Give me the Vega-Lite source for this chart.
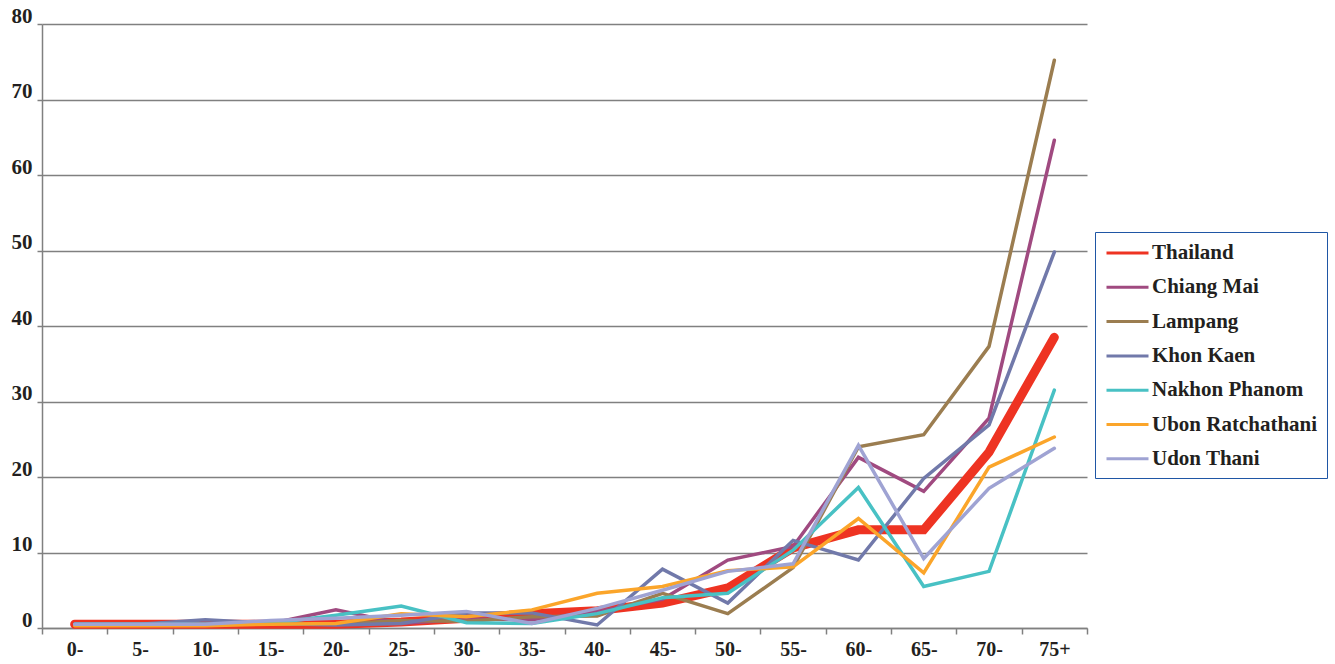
{
  "$schema": "https://vega.github.io/schema/vega-lite/v6.json",
  "width": 1045,
  "height": 604,
  "autosize": {"type": "none"},
  "padding": {"left": 42, "top": 24, "right": 248, "bottom": 36},
  "background": "#ffffff",
  "config": {"view": {"stroke": null}, "font": "Liberation Serif"},
  "datasets": {
    "rates": [
      {"age": "0-", "region": "Thailand", "value": 0.5},
      {"age": "5-", "region": "Thailand", "value": 0.5},
      {"age": "10-", "region": "Thailand", "value": 0.5},
      {"age": "15-", "region": "Thailand", "value": 0.5},
      {"age": "20-", "region": "Thailand", "value": 0.5},
      {"age": "25-", "region": "Thailand", "value": 0.8},
      {"age": "30-", "region": "Thailand", "value": 1.3},
      {"age": "35-", "region": "Thailand", "value": 1.9},
      {"age": "40-", "region": "Thailand", "value": 2.3},
      {"age": "45-", "region": "Thailand", "value": 3.3},
      {"age": "50-", "region": "Thailand", "value": 5.3},
      {"age": "55-", "region": "Thailand", "value": 10.6},
      {"age": "60-", "region": "Thailand", "value": 13.0},
      {"age": "65-", "region": "Thailand", "value": 13.0},
      {"age": "70-", "region": "Thailand", "value": 23.3},
      {"age": "75+", "region": "Thailand", "value": 38.5},
      {"age": "0-", "region": "Chiang Mai", "value": 0.5},
      {"age": "5-", "region": "Chiang Mai", "value": 0.5},
      {"age": "10-", "region": "Chiang Mai", "value": 0.5},
      {"age": "15-", "region": "Chiang Mai", "value": 0.6},
      {"age": "20-", "region": "Chiang Mai", "value": 2.4},
      {"age": "25-", "region": "Chiang Mai", "value": 0.6},
      {"age": "30-", "region": "Chiang Mai", "value": 1.2},
      {"age": "35-", "region": "Chiang Mai", "value": 1.1},
      {"age": "40-", "region": "Chiang Mai", "value": 2.2},
      {"age": "45-", "region": "Chiang Mai", "value": 3.8},
      {"age": "50-", "region": "Chiang Mai", "value": 9.0},
      {"age": "55-", "region": "Chiang Mai", "value": 10.8},
      {"age": "60-", "region": "Chiang Mai", "value": 22.6},
      {"age": "65-", "region": "Chiang Mai", "value": 18.1},
      {"age": "70-", "region": "Chiang Mai", "value": 27.8},
      {"age": "75+", "region": "Chiang Mai", "value": 64.6},
      {"age": "0-", "region": "Lampang", "value": 0.5},
      {"age": "5-", "region": "Lampang", "value": 0.5},
      {"age": "10-", "region": "Lampang", "value": 0.5},
      {"age": "15-", "region": "Lampang", "value": 0.5},
      {"age": "20-", "region": "Lampang", "value": 0.5},
      {"age": "25-", "region": "Lampang", "value": 1.0},
      {"age": "30-", "region": "Lampang", "value": 0.9},
      {"age": "35-", "region": "Lampang", "value": 1.5},
      {"age": "40-", "region": "Lampang", "value": 1.6},
      {"age": "45-", "region": "Lampang", "value": 4.6},
      {"age": "50-", "region": "Lampang", "value": 1.9},
      {"age": "55-", "region": "Lampang", "value": 8.0},
      {"age": "60-", "region": "Lampang", "value": 24.0},
      {"age": "65-", "region": "Lampang", "value": 25.6},
      {"age": "70-", "region": "Lampang", "value": 37.3},
      {"age": "75+", "region": "Lampang", "value": 75.2},
      {"age": "0-", "region": "Khon Kaen", "value": 0.5},
      {"age": "5-", "region": "Khon Kaen", "value": 0.5},
      {"age": "10-", "region": "Khon Kaen", "value": 1.1},
      {"age": "15-", "region": "Khon Kaen", "value": 0.6},
      {"age": "20-", "region": "Khon Kaen", "value": 0.4},
      {"age": "25-", "region": "Khon Kaen", "value": 0.6},
      {"age": "30-", "region": "Khon Kaen", "value": 2.0},
      {"age": "35-", "region": "Khon Kaen", "value": 2.0},
      {"age": "40-", "region": "Khon Kaen", "value": 0.4},
      {"age": "45-", "region": "Khon Kaen", "value": 7.8},
      {"age": "50-", "region": "Khon Kaen", "value": 3.3},
      {"age": "55-", "region": "Khon Kaen", "value": 11.6},
      {"age": "60-", "region": "Khon Kaen", "value": 9.0},
      {"age": "65-", "region": "Khon Kaen", "value": 19.8},
      {"age": "70-", "region": "Khon Kaen", "value": 26.9},
      {"age": "75+", "region": "Khon Kaen", "value": 49.8},
      {"age": "0-", "region": "Nakhon Phanom", "value": 0.5},
      {"age": "5-", "region": "Nakhon Phanom", "value": 0.5},
      {"age": "10-", "region": "Nakhon Phanom", "value": 0.5},
      {"age": "15-", "region": "Nakhon Phanom", "value": 0.6},
      {"age": "20-", "region": "Nakhon Phanom", "value": 1.7},
      {"age": "25-", "region": "Nakhon Phanom", "value": 2.9},
      {"age": "30-", "region": "Nakhon Phanom", "value": 0.7},
      {"age": "35-", "region": "Nakhon Phanom", "value": 0.6},
      {"age": "40-", "region": "Nakhon Phanom", "value": 1.9},
      {"age": "45-", "region": "Nakhon Phanom", "value": 4.0},
      {"age": "50-", "region": "Nakhon Phanom", "value": 4.6},
      {"age": "55-", "region": "Nakhon Phanom", "value": 10.3},
      {"age": "60-", "region": "Nakhon Phanom", "value": 18.6},
      {"age": "65-", "region": "Nakhon Phanom", "value": 5.5},
      {"age": "70-", "region": "Nakhon Phanom", "value": 7.5},
      {"age": "75+", "region": "Nakhon Phanom", "value": 31.5},
      {"age": "0-", "region": "Ubon Ratchathani", "value": 0.3},
      {"age": "5-", "region": "Ubon Ratchathani", "value": 0.3},
      {"age": "10-", "region": "Ubon Ratchathani", "value": 0.3},
      {"age": "15-", "region": "Ubon Ratchathani", "value": 0.5},
      {"age": "20-", "region": "Ubon Ratchathani", "value": 0.6},
      {"age": "25-", "region": "Ubon Ratchathani", "value": 1.9},
      {"age": "30-", "region": "Ubon Ratchathani", "value": 1.5},
      {"age": "35-", "region": "Ubon Ratchathani", "value": 2.4},
      {"age": "40-", "region": "Ubon Ratchathani", "value": 4.6},
      {"age": "45-", "region": "Ubon Ratchathani", "value": 5.5},
      {"age": "50-", "region": "Ubon Ratchathani", "value": 7.6},
      {"age": "55-", "region": "Ubon Ratchathani", "value": 8.1},
      {"age": "60-", "region": "Ubon Ratchathani", "value": 14.5},
      {"age": "65-", "region": "Ubon Ratchathani", "value": 7.3},
      {"age": "70-", "region": "Ubon Ratchathani", "value": 21.3},
      {"age": "75+", "region": "Ubon Ratchathani", "value": 25.3},
      {"age": "0-", "region": "Udon Thani", "value": 0.5},
      {"age": "5-", "region": "Udon Thani", "value": 0.5},
      {"age": "10-", "region": "Udon Thani", "value": 0.5},
      {"age": "15-", "region": "Udon Thani", "value": 1.0},
      {"age": "20-", "region": "Udon Thani", "value": 1.3},
      {"age": "25-", "region": "Udon Thani", "value": 1.7},
      {"age": "30-", "region": "Udon Thani", "value": 2.2},
      {"age": "35-", "region": "Udon Thani", "value": 0.6},
      {"age": "40-", "region": "Udon Thani", "value": 2.6},
      {"age": "45-", "region": "Udon Thani", "value": 5.0},
      {"age": "50-", "region": "Udon Thani", "value": 7.5},
      {"age": "55-", "region": "Udon Thani", "value": 8.5},
      {"age": "60-", "region": "Udon Thani", "value": 24.2},
      {"age": "65-", "region": "Udon Thani", "value": 9.2},
      {"age": "70-", "region": "Udon Thani", "value": 18.5},
      {"age": "75+", "region": "Udon Thani", "value": 23.8}
    ]
  },
  "data": {"name": "rates"},
  "encoding": {
    "x": {
      "field": "age",
      "type": "ordinal",
      "sort": ["0-", "5-", "10-", "15-", "20-", "25-", "30-", "35-", "40-", "45-", "50-", "55-", "60-", "65-", "70-", "75+"],
      "scale": {"type": "band", "paddingInner": 0, "paddingOuter": 0},
      "axis": {
        "title": null,
        "labelAngle": 0,
        "labelFont": "Liberation Serif",
        "labelFontWeight": "bold",
        "labelFontSize": 20,
        "labelColor": "#231f20",
        "labelPadding": 5,
        "labelDx": 3,
        "domainColor": "#808080",
        "domainWidth": 1.5,
        "tickColor": "#808080",
        "tickWidth": 1.5,
        "tickSize": 6,
        "tickBand": "extent",
        "grid": false
      }
    },
    "y": {
      "field": "value",
      "type": "quantitative",
      "scale": {"domain": [0, 80], "nice": false},
      "axis": {
        "title": null,
        "values": [0, 10, 20, 30, 40, 50, 60, 70, 80],
        "grid": true,
        "gridColor": "#808080",
        "gridWidth": 1.5,
        "domainColor": "#808080",
        "domainWidth": 1.5,
        "tickColor": "#808080",
        "tickWidth": 1.5,
        "tickSize": 5,
        "labelFont": "Liberation Serif",
        "labelFontWeight": "bold",
        "labelFontSize": 21,
        "labelColor": "#231f20",
        "labelBaseline": "alphabetic",
        "labelOffset": -2,
        "labelPadding": 5,
        "labelOverlap": false
      }
    },
    "color": {
      "field": "region",
      "type": "nominal",
      "scale": {
        "domain": ["Thailand", "Chiang Mai", "Lampang", "Khon Kaen", "Nakhon Phanom", "Ubon Ratchathani", "Udon Thani"],
        "range": ["#ee3322", "#a04a80", "#9b7d50", "#7179aa", "#48c1c4", "#fba52a", "#9fa3d3"]
      },
      "legend": {
        "title": null,
        "orient": "none",
        "legendX": 1053,
        "legendY": 208,
        "symbolType": "M-2,0H2",
        "symbolSize": 441,
        "symbolOffset": 11.5,
        "symbolStrokeWidth": 3,
        "labelFont": "Liberation Serif",
        "labelFontWeight": "bold",
        "labelFontSize": 21,
        "labelColor": "#231f20",
        "labelOffset": 12.5,
        "labelLimit": 400,
        "strokeColor": "#1f56a5",
        "padding": 9,
        "rowPadding": 12.3
      }
    }
  },
  "layer": [
    {
      "transform": [{"filter": "datum.region === 'Thailand'"}],
      "mark": {"type": "line", "strokeCap": "round", "strokeWidth": 9}
    },
    {
      "transform": [{"filter": "datum.region !== 'Thailand'"}],
      "mark": {"type": "line", "strokeCap": "round", "strokeWidth": 3.5}
    }
  ]
}
